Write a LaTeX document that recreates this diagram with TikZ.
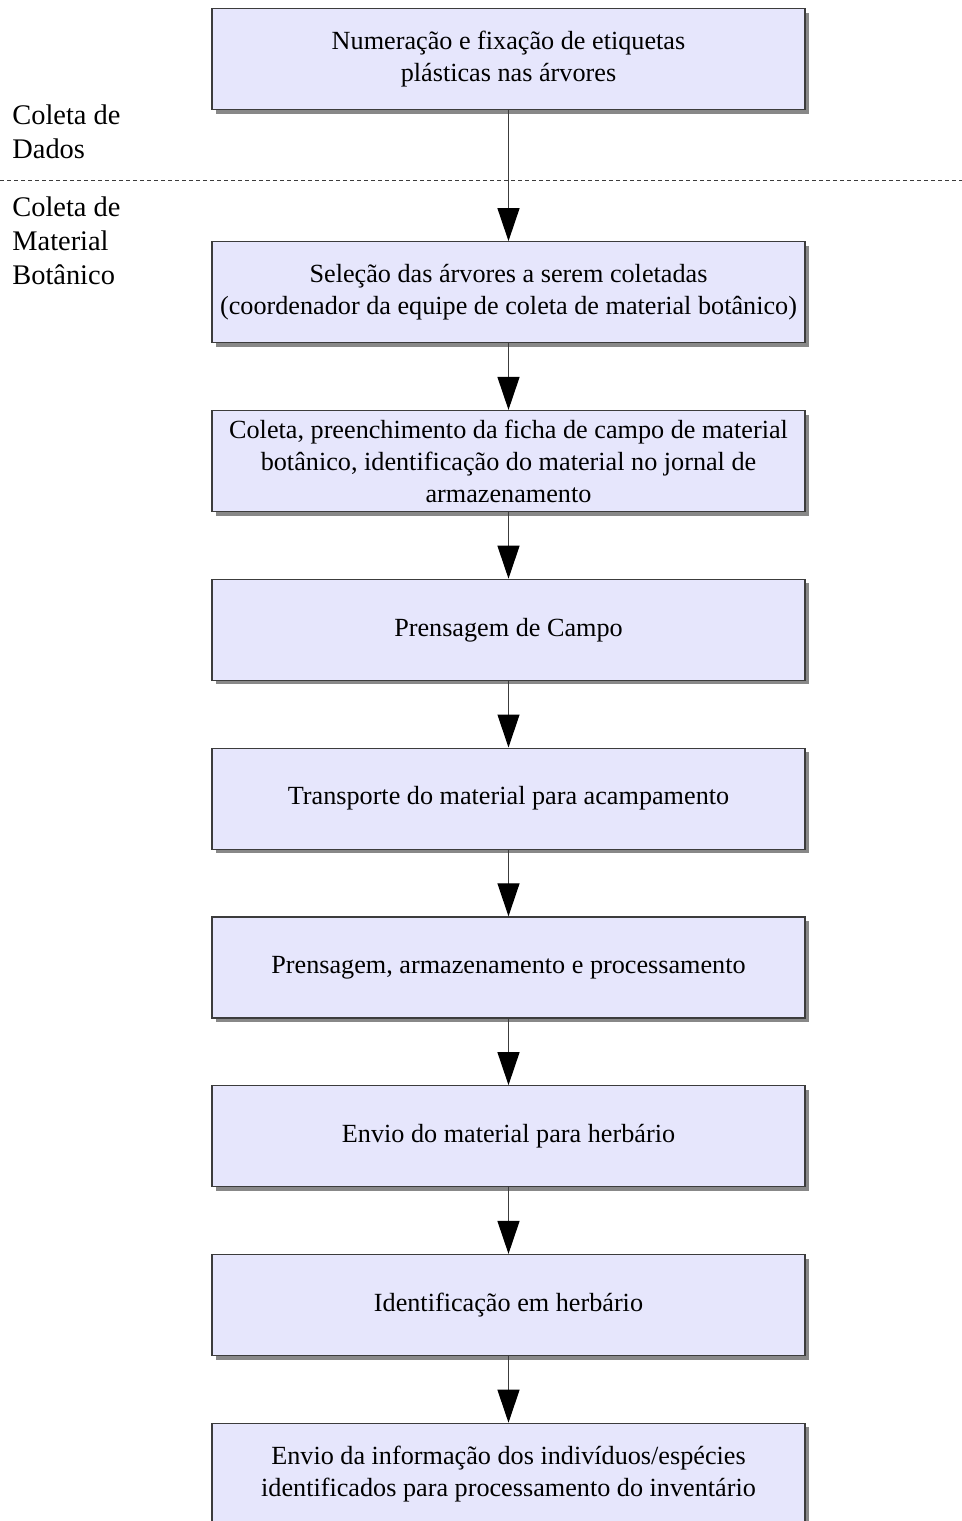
\documentclass[tikz,border=0pt]{standalone}
\usepackage{fontspec}
\setmainfont{Liberation Serif}
\usetikzlibrary{arrows.meta,positioning,shadows}

\definecolor{boxfill}{RGB}{230,230,252}
\definecolor{boxline}{RGB}{60,60,60}
\definecolor{shadowgray}{RGB}{136,136,136}

\begin{document}
\begin{tikzpicture}[x=0.5pt, y=0.5pt, node distance=33.3pt, >={Triangle[width=11pt,length=16.5pt,color=black]},
  stepbox/.style={draw=boxline, line width=0.6pt, fill=boxfill, minimum width=296.5pt, minimum height=50.5pt,
    inner sep=0pt, align=center, font=\fontsize{13.1}{16}\selectfont,
    drop shadow={shadow xshift=2pt, shadow yshift=-2pt, fill=shadowgray, opacity=1}},
  phase/.style={anchor=north west, inner sep=0pt, align=left, font=\fontsize{14.2}{17}\selectfont},
  flow/.style={->, draw=boxline, line width=0.6pt}]
\useasboundingbox (0,0) rectangle (962,-1521);

\node[stepbox] (num) at (508.5,-59) {Numeração e fixação de etiquetas\\plásticas nas árvores};
\node[stepbox, below=65.5pt of num] (sel) {Seleção das árvores a serem coletadas\\(coordenador da equipe de coleta de material botânico)};
\node[stepbox, below=of sel] (col) {Coleta, preenchimento da ficha de campo de material\\botânico, identificação do material no jornal de\\armazenamento};
\node[stepbox, below=of col] (pre) {Prensagem de Campo};
\node[stepbox, below=of pre] (tra) {Transporte do material para acampamento};
\node[stepbox, below=of tra] (arm) {Prensagem, armazenamento e processamento};
\node[stepbox, below=of arm] (env) {Envio do material para herbário};
\node[stepbox, below=of env] (ide) {Identificação em herbário};
\node[stepbox, below=of ide] (inf) {Envio da informação dos indivíduos/espécies\\identificados para processamento do inventário};

% fases
\node[phase] (dados) at (12,-104) {Coleta de\\Dados};
\node[phase] (botan) at (12,-196) {Coleta de\\Material\\Botânico};
\coordinate (sepL) at (0,-180);
\coordinate (sepR) at (962,-180);
\draw[boxline, line width=0.5pt, dash pattern=on 2pt off 1.5pt] (sepL) -- (sepR);

\draw[flow] (num) -- (sel);
\draw[flow] (sel) -- (col);
\draw[flow] (col) -- (pre);
\draw[flow] (pre) -- (tra);
\draw[flow] (tra) -- (arm);
\draw[flow] (arm) -- (env);
\draw[flow] (env) -- (ide);
\draw[flow] (ide) -- (inf);
\end{tikzpicture}
\end{document}
